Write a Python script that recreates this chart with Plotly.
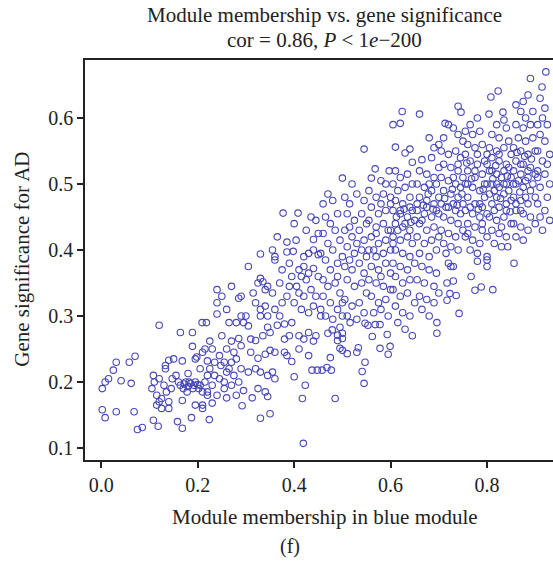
import plotly.graph_objects as go

# Module membership (x) and gene significance (y), grouped by x band
band_000_030 = [
    [0.002, 0.19], [0.002, 0.158], [0.008, 0.146], [0.008, 0.2], [0.015, 0.205], [0.025, 0.218],
    [0.031, 0.23], [0.031, 0.155], [0.041, 0.202], [0.058, 0.23], [0.062, 0.198], [0.068, 0.155],
    [0.07, 0.239], [0.075, 0.128], [0.085, 0.131],
    [0.12, 0.286], [0.108, 0.21], [0.108, 0.142], [0.118, 0.133], [0.105, 0.19], [0.11, 0.2],
    [0.115, 0.18], [0.12, 0.205], [0.125, 0.175], [0.13, 0.195], [0.115, 0.165], [0.125, 0.16],
    [0.135, 0.185], [0.14, 0.17], [0.145, 0.19], [0.133, 0.225], [0.14, 0.233], [0.15, 0.235],
    [0.133, 0.22], [0.147, 0.205], [0.12, 0.17], [0.14, 0.16],
    [0.164, 0.275], [0.189, 0.275], [0.189, 0.254], [0.168, 0.232], [0.168, 0.172], [0.187, 0.146],
    [0.168, 0.13], [0.164, 0.195], [0.17, 0.19], [0.175, 0.2], [0.18, 0.193], [0.185, 0.198],
    [0.19, 0.19], [0.195, 0.2], [0.18, 0.213], [0.195, 0.235], [0.198, 0.238], [0.195, 0.165],
    [0.16, 0.2], [0.155, 0.21], [0.2, 0.196], [0.178, 0.185], [0.158, 0.14],
    [0.172, 0.197], [0.182, 0.2], [0.192, 0.195], [0.202, 0.19],
    [0.209, 0.29], [0.21, 0.165], [0.21, 0.16], [0.224, 0.143], [0.23, 0.168], [0.218, 0.29],
    [0.24, 0.34], [0.24, 0.32], [0.24, 0.303], [0.215, 0.2], [0.22, 0.21], [0.225, 0.22],
    [0.23, 0.195], [0.235, 0.23], [0.22, 0.185], [0.245, 0.205], [0.21, 0.245], [0.215, 0.25],
    [0.23, 0.25], [0.245, 0.24], [0.225, 0.262], [0.205, 0.22], [0.24, 0.18], [0.235, 0.21],
    [0.22, 0.232], [0.248, 0.225], [0.205, 0.195], [0.21, 0.185], [0.22, 0.18],
    [0.26, 0.25], [0.27, 0.262], [0.285, 0.266], [0.29, 0.255], [0.26, 0.176], [0.28, 0.18],
    [0.292, 0.164], [0.295, 0.187], [0.285, 0.327], [0.29, 0.3], [0.29, 0.33], [0.255, 0.23],
    [0.265, 0.22], [0.275, 0.21], [0.285, 0.2], [0.255, 0.2], [0.27, 0.195], [0.28, 0.235],
    [0.26, 0.215], [0.25, 0.27], [0.275, 0.245], [0.265, 0.29], [0.28, 0.29], [0.295, 0.29],
    [0.255, 0.19], [0.27, 0.23], [0.29, 0.22], [0.26, 0.31], [0.25, 0.33], [0.27, 0.345],
]

band_030_050 = [
    [0.305, 0.375], [0.33, 0.394], [0.325, 0.35], [0.33, 0.357], [0.335, 0.352], [0.315, 0.335],
    [0.3, 0.3], [0.33, 0.31], [0.34, 0.315], [0.345, 0.3], [0.33, 0.3], [0.32, 0.263],
    [0.335, 0.27], [0.345, 0.283], [0.35, 0.275], [0.325, 0.236], [0.34, 0.242], [0.35, 0.248],
    [0.305, 0.215], [0.32, 0.22], [0.33, 0.215], [0.345, 0.21], [0.313, 0.176], [0.325, 0.19],
    [0.34, 0.185], [0.345, 0.178], [0.33, 0.145], [0.35, 0.152], [0.31, 0.245], [0.305, 0.285],
    [0.32, 0.32], [0.34, 0.34], [0.31, 0.265],
    [0.377, 0.456], [0.385, 0.412], [0.36, 0.385], [0.36, 0.39], [0.385, 0.397], [0.398, 0.398],
    [0.345, 0.345], [0.355, 0.335], [0.37, 0.35], [0.36, 0.31], [0.375, 0.32], [0.37, 0.3],
    [0.365, 0.286], [0.38, 0.288], [0.395, 0.29], [0.38, 0.265], [0.39, 0.27], [0.36, 0.245],
    [0.385, 0.24], [0.395, 0.231], [0.38, 0.245], [0.36, 0.205], [0.355, 0.215], [0.385, 0.33],
    [0.39, 0.345], [0.395, 0.36], [0.375, 0.37], [0.365, 0.42], [0.355, 0.4], [0.39, 0.38],
    [0.408, 0.456], [0.404, 0.415], [0.44, 0.416], [0.42, 0.39], [0.43, 0.395], [0.44, 0.4],
    [0.45, 0.393], [0.41, 0.37], [0.42, 0.375], [0.415, 0.36], [0.43, 0.365], [0.44, 0.372],
    [0.45, 0.36], [0.425, 0.355], [0.405, 0.345], [0.41, 0.335], [0.42, 0.33], [0.435, 0.34],
    [0.445, 0.33], [0.4, 0.32], [0.415, 0.31], [0.43, 0.305], [0.44, 0.315], [0.455, 0.3],
    [0.41, 0.27], [0.42, 0.265], [0.43, 0.275], [0.44, 0.262], [0.445, 0.27], [0.4, 0.208],
    [0.423, 0.195], [0.417, 0.175], [0.437, 0.218], [0.448, 0.218], [0.419, 0.107], [0.41, 0.25],
    [0.43, 0.24], [0.4, 0.44], [0.425, 0.43], [0.435, 0.45], [0.445, 0.445], [0.45, 0.425],
    [0.47, 0.274], [0.479, 0.279], [0.495, 0.283], [0.49, 0.271], [0.5, 0.274], [0.5, 0.266],
    [0.49, 0.263], [0.495, 0.251], [0.5, 0.248], [0.475, 0.237], [0.468, 0.222], [0.477, 0.218],
    [0.485, 0.175], [0.458, 0.218],
    [0.46, 0.47], [0.47, 0.485], [0.48, 0.475], [0.465, 0.45], [0.475, 0.44], [0.49, 0.455],
    [0.485, 0.43], [0.46, 0.425], [0.47, 0.41], [0.48, 0.4], [0.495, 0.415], [0.455, 0.395],
    [0.465, 0.385], [0.475, 0.37], [0.49, 0.38], [0.5, 0.39], [0.46, 0.355], [0.47, 0.345],
    [0.485, 0.35], [0.495, 0.335], [0.46, 0.33], [0.475, 0.32], [0.49, 0.31], [0.5, 0.32],
    [0.465, 0.3], [0.48, 0.295], [0.5, 0.3], [0.455, 0.31], [0.49, 0.36], [0.5, 0.509],
]

band_050_070 = [
    [0.51, 0.243], [0.516, 0.29], [0.533, 0.252], [0.53, 0.245], [0.547, 0.289], [0.547, 0.23],
    [0.541, 0.216], [0.545, 0.198], [0.545, 0.553], [0.52, 0.5], [0.505, 0.48], [0.515, 0.47],
    [0.53, 0.485], [0.545, 0.475], [0.51, 0.455], [0.525, 0.445], [0.54, 0.455], [0.55, 0.44],
    [0.505, 0.43], [0.52, 0.42], [0.535, 0.43], [0.545, 0.415], [0.51, 0.405], [0.525, 0.395],
    [0.54, 0.4], [0.55, 0.39], [0.505, 0.375], [0.52, 0.37], [0.535, 0.38], [0.545, 0.365],
    [0.51, 0.355], [0.525, 0.345], [0.54, 0.35], [0.55, 0.335], [0.505, 0.325], [0.52, 0.315],
    [0.535, 0.32], [0.545, 0.305], [0.51, 0.3], [0.53, 0.295], [0.515, 0.385], [0.53, 0.41],
    [0.515, 0.435],
    [0.553, 0.286], [0.568, 0.287], [0.578, 0.287], [0.562, 0.269], [0.593, 0.272], [0.578, 0.251],
    [0.599, 0.254], [0.595, 0.242], [0.568, 0.523], [0.597, 0.52], [0.56, 0.509], [0.58, 0.505],
    [0.59, 0.5], [0.555, 0.49], [0.57, 0.48], [0.585, 0.485], [0.6, 0.47], [0.56, 0.465],
    [0.575, 0.455], [0.59, 0.46], [0.555, 0.445], [0.57, 0.435], [0.585, 0.44], [0.6, 0.43],
    [0.56, 0.42], [0.575, 0.41], [0.59, 0.415], [0.6, 0.4], [0.555, 0.4], [0.57, 0.39],
    [0.585, 0.395], [0.56, 0.375], [0.575, 0.37], [0.59, 0.38], [0.6, 0.365], [0.555, 0.355],
    [0.57, 0.35], [0.585, 0.345], [0.6, 0.34], [0.56, 0.33], [0.575, 0.32], [0.59, 0.325],
    [0.565, 0.305], [0.58, 0.31], [0.595, 0.3], [0.57, 0.425], [0.58, 0.36], [0.595, 0.43],
    [0.565, 0.4], [0.58, 0.47],
    [0.624, 0.61], [0.605, 0.59], [0.62, 0.592], [0.61, 0.556], [0.63, 0.547], [0.64, 0.553],
    [0.645, 0.533], [0.61, 0.52], [0.62, 0.51], [0.635, 0.515], [0.645, 0.5], [0.605, 0.5],
    [0.615, 0.49], [0.63, 0.495], [0.64, 0.48], [0.61, 0.475], [0.625, 0.47], [0.64, 0.465],
    [0.605, 0.46], [0.62, 0.455], [0.635, 0.45], [0.65, 0.445], [0.61, 0.44], [0.625, 0.435],
    [0.64, 0.43], [0.605, 0.42], [0.62, 0.415], [0.635, 0.42], [0.645, 0.41], [0.61, 0.4],
    [0.625, 0.395], [0.64, 0.39], [0.605, 0.38], [0.62, 0.375], [0.635, 0.37], [0.65, 0.38],
    [0.61, 0.36], [0.625, 0.35], [0.64, 0.355], [0.605, 0.34], [0.62, 0.33], [0.635, 0.335],
    [0.65, 0.32], [0.61, 0.315], [0.625, 0.305], [0.64, 0.3], [0.615, 0.29], [0.63, 0.28],
    [0.645, 0.27], [0.62, 0.46], [0.63, 0.44], [0.615, 0.43], [0.645, 0.46], [0.6, 0.48],
    [0.655, 0.47], [0.612, 0.45], [0.628, 0.462], [0.642, 0.442], [0.605, 0.41],
    [0.66, 0.606], [0.68, 0.57], [0.69, 0.555], [0.7, 0.56], [0.685, 0.54], [0.665, 0.537],
    [0.66, 0.52], [0.675, 0.515], [0.69, 0.51], [0.7, 0.525], [0.655, 0.5], [0.67, 0.495],
    [0.685, 0.49], [0.695, 0.5], [0.66, 0.48], [0.675, 0.475], [0.69, 0.47], [0.7, 0.48],
    [0.655, 0.46], [0.67, 0.455], [0.685, 0.45], [0.7, 0.455], [0.66, 0.44], [0.675, 0.43],
    [0.69, 0.435], [0.655, 0.42], [0.67, 0.41], [0.685, 0.415], [0.7, 0.42], [0.66, 0.395],
    [0.68, 0.39], [0.695, 0.4], [0.665, 0.375], [0.68, 0.37], [0.695, 0.365], [0.655, 0.355],
    [0.67, 0.35], [0.69, 0.345], [0.66, 0.33], [0.675, 0.325], [0.69, 0.32], [0.7, 0.335],
    [0.665, 0.31], [0.68, 0.3], [0.696, 0.29], [0.696, 0.274], [0.675, 0.465], [0.665, 0.445],
    [0.695, 0.46], [0.68, 0.5], [0.668, 0.468], [0.688, 0.462], [0.678, 0.485],
]

band_070_094 = [
    [0.713, 0.592], [0.71, 0.57], [0.74, 0.618], [0.746, 0.609], [0.72, 0.59], [0.73, 0.585],
    [0.74, 0.575], [0.75, 0.565], [0.705, 0.55], [0.72, 0.545], [0.735, 0.55], [0.745, 0.54],
    [0.71, 0.53], [0.725, 0.525], [0.74, 0.52], [0.705, 0.51], [0.72, 0.505], [0.735, 0.5],
    [0.75, 0.51], [0.71, 0.49], [0.725, 0.485], [0.74, 0.48], [0.705, 0.47], [0.72, 0.465],
    [0.735, 0.46], [0.75, 0.47], [0.71, 0.45], [0.725, 0.445], [0.74, 0.44], [0.705, 0.43],
    [0.72, 0.425], [0.735, 0.42], [0.75, 0.43], [0.71, 0.41], [0.725, 0.405], [0.74, 0.4],
    [0.72, 0.38], [0.73, 0.375], [0.725, 0.375], [0.73, 0.353], [0.717, 0.35], [0.723, 0.334],
    [0.736, 0.331], [0.717, 0.324], [0.742, 0.304], [0.745, 0.455], [0.715, 0.395], [0.745, 0.495],
    [0.73, 0.51], [0.73, 0.47], [0.715, 0.465], [0.74, 0.53], [0.712, 0.478], [0.738, 0.468],
    [0.728, 0.492], [0.748, 0.485],
    [0.78, 0.6], [0.765, 0.59], [0.77, 0.575], [0.755, 0.58], [0.785, 0.58], [0.76, 0.56],
    [0.775, 0.555], [0.79, 0.56], [0.8, 0.545], [0.755, 0.545], [0.765, 0.535], [0.78, 0.53],
    [0.795, 0.535], [0.76, 0.52], [0.775, 0.51], [0.79, 0.515], [0.8, 0.5], [0.755, 0.5],
    [0.77, 0.495], [0.785, 0.49], [0.795, 0.48], [0.76, 0.48], [0.775, 0.47], [0.79, 0.465],
    [0.755, 0.46], [0.77, 0.455], [0.785, 0.45], [0.8, 0.455], [0.76, 0.44], [0.775, 0.435],
    [0.79, 0.43], [0.755, 0.42], [0.77, 0.415], [0.785, 0.41], [0.8, 0.42], [0.765, 0.4],
    [0.78, 0.395], [0.78, 0.383], [0.8, 0.39], [0.8, 0.375], [0.8, 0.385], [0.767, 0.36],
    [0.775, 0.339], [0.788, 0.344], [0.76, 0.5], [0.795, 0.5], [0.765, 0.465], [0.785, 0.47],
    [0.775, 0.52], [0.79, 0.44], [0.76, 0.425], [0.78, 0.545], [0.768, 0.508], [0.792, 0.492],
    [0.758, 0.532], [0.782, 0.462],
    [0.823, 0.641], [0.808, 0.632], [0.804, 0.606], [0.833, 0.609], [0.835, 0.597], [0.82, 0.59],
    [0.84, 0.585], [0.81, 0.575], [0.825, 0.57], [0.845, 0.565], [0.805, 0.555], [0.82, 0.55],
    [0.835, 0.555], [0.85, 0.545], [0.81, 0.54], [0.825, 0.535], [0.84, 0.53], [0.805, 0.52],
    [0.82, 0.515], [0.835, 0.52], [0.85, 0.51], [0.81, 0.5], [0.825, 0.495], [0.84, 0.5],
    [0.805, 0.485], [0.82, 0.48], [0.835, 0.485], [0.85, 0.475], [0.81, 0.47], [0.825, 0.465],
    [0.84, 0.46], [0.805, 0.45], [0.82, 0.445], [0.835, 0.45], [0.85, 0.44], [0.81, 0.43],
    [0.825, 0.425], [0.84, 0.42], [0.815, 0.41], [0.83, 0.405], [0.843, 0.405], [0.812, 0.34],
    [0.815, 0.46], [0.83, 0.51], [0.845, 0.49], [0.83, 0.435], [0.81, 0.52], [0.845, 0.525],
    [0.815, 0.49], [0.84, 0.47], [0.825, 0.545], [0.8, 0.53], [0.835, 0.5], [0.82, 0.5],
    [0.812, 0.508], [0.828, 0.478], [0.842, 0.512], [0.818, 0.528], [0.848, 0.458],
    [0.89, 0.66], [0.86, 0.62], [0.875, 0.625], [0.885, 0.635], [0.87, 0.61], [0.88, 0.6],
    [0.895, 0.61], [0.86, 0.59], [0.875, 0.585], [0.89, 0.59], [0.865, 0.57], [0.88, 0.565],
    [0.895, 0.57], [0.855, 0.555], [0.87, 0.55], [0.885, 0.545], [0.9, 0.55], [0.86, 0.535],
    [0.875, 0.53], [0.89, 0.525], [0.855, 0.52], [0.87, 0.515], [0.885, 0.51], [0.9, 0.515],
    [0.86, 0.5], [0.875, 0.495], [0.89, 0.49], [0.855, 0.48], [0.87, 0.475], [0.885, 0.47],
    [0.9, 0.48], [0.86, 0.46], [0.875, 0.455], [0.89, 0.45], [0.855, 0.44], [0.87, 0.435],
    [0.885, 0.43], [0.9, 0.44], [0.86, 0.42], [0.875, 0.415], [0.856, 0.38], [0.865, 0.505],
    [0.88, 0.505], [0.895, 0.5], [0.86, 0.47], [0.88, 0.48], [0.87, 0.46], [0.855, 0.5],
    [0.885, 0.52], [0.87, 0.53], [0.862, 0.548], [0.878, 0.542], [0.892, 0.538], [0.868, 0.488],
    [0.922, 0.67], [0.914, 0.647], [0.91, 0.63], [0.92, 0.615], [0.915, 0.6], [0.905, 0.59],
    [0.925, 0.59], [0.91, 0.575], [0.92, 0.565], [0.905, 0.55], [0.93, 0.545], [0.915, 0.535],
    [0.905, 0.52], [0.92, 0.515], [0.93, 0.5], [0.91, 0.495], [0.925, 0.48], [0.905, 0.47],
    [0.92, 0.46], [0.91, 0.45], [0.93, 0.445], [0.915, 0.43], [0.905, 0.51], [0.925, 0.53],
]

x_ticks = [0.0, 0.2, 0.4, 0.6, 0.8]
y_ticks = [0.1, 0.2, 0.3, 0.4, 0.5, 0.6]

title_line1 = "Module membership vs. gene significance"
title_line2 = "cor = 0.86, <i>P</i> < 1<i>e</i>\u2212200"
x_title = "Module membership in blue module"
y_title = "Gene significance for AD"
caption = "(f)"

points = band_000_030 + band_030_050 + band_050_070 + band_070_094
mm = [p[0] for p in points]
gs = [p[1] for p in points]

FONT = "Liberation Serif, Times New Roman, serif"
W, H = 553, 567
PLOT_L, PLOT_R, PLOT_T, PLOT_B = 85, W, 60, H - 107

fig = go.Figure()
fig.add_trace(go.Scatter(
    x=mm, y=gs, mode="markers",
    marker=dict(symbol="circle-open", size=6.5, color="#4848b8", line=dict(width=1.1)),
    cliponaxis=False, showlegend=False,
))

fig.update_layout(
    width=W, height=H,
    margin=dict(l=PLOT_L, r=W - PLOT_R, t=PLOT_T, b=H - PLOT_B),
    paper_bgcolor="white", plot_bgcolor="white",
    font=dict(family=FONT, color="#222222", size=20),
    xaxis=dict(
        range=[-0.0338, 0.9368], tickvals=x_ticks, ticktext=[f"{v:.1f}" for v in x_ticks],
        showline=True, linecolor="#222222", linewidth=1.5, mirror=True,
        ticks="outside", ticklen=6, tickwidth=2, tickcolor="#222222",
        showgrid=False, zeroline=False, tickfont=dict(size=20, family=FONT),
    ),
    yaxis=dict(
        range=[0.0818, 0.688], tickvals=y_ticks, ticktext=[f"{v:.1f}" for v in y_ticks],
        showline=True, linecolor="#222222", linewidth=1.5, mirror=False,
        ticks="outside", ticklen=6, tickwidth=2, tickcolor="#222222",
        showgrid=False, zeroline=False, tickfont=dict(size=20, family=FONT),
    ),
)


def note(text, px, py, size, angle=0):
    fig.add_annotation(
        text=text, xref="paper", yref="paper", showarrow=False,
        x=(px - PLOT_L) / (PLOT_R - PLOT_L), y=(PLOT_B - py) / (PLOT_B - PLOT_T),
        xanchor="center", yanchor="middle", textangle=angle,
        font=dict(family=FONT, size=size, color="#222222"),
    )


note(title_line1, 324.5, 15, 21)
note(title_line2, 324.5, 40, 21)
note(x_title, 324.5, 517, 21)
note(y_title, 22, 259.7, 21, angle=-90)
note(caption, 289.5, 546, 20)

fig.write_html("out.html")
